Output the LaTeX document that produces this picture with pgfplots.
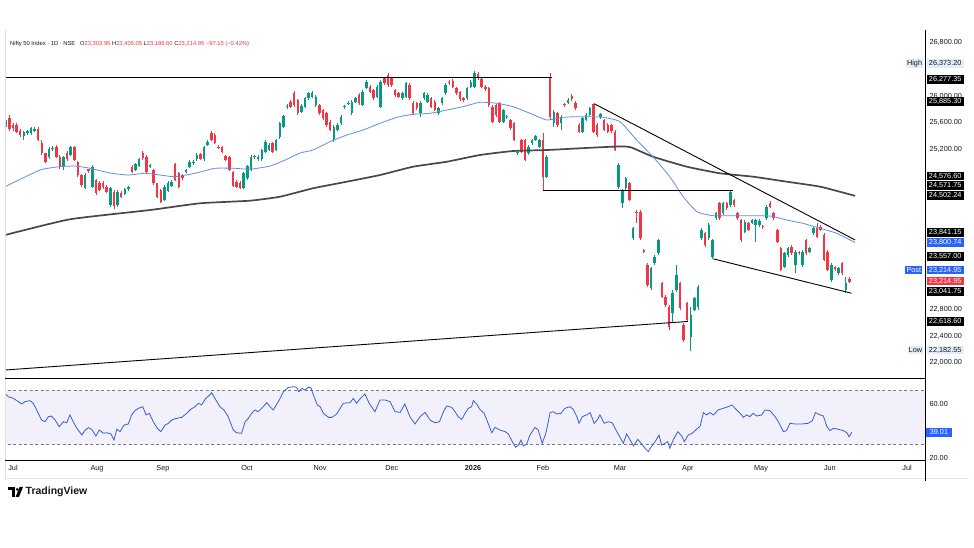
\documentclass[border=0pt]{standalone}
\usepackage{pgfplots}
\pgfplotsset{compat=1.18}
\usepackage{pgfplotstable}
\usepackage{fontspec}
\setmainfont{Liberation Sans}
\definecolor{tvgreen}{RGB}{8,153,129}
\definecolor{tvred}{RGB}{242,54,69}
\definecolor{maBlue}{RGB}{100,140,225}
\definecolor{maGray}{RGB}{72,72,72}
\definecolor{rsiBlue}{RGB}{55,95,210}
\definecolor{rsiFill}{RGB}{242,240,250}
\definecolor{tvBlue}{RGB}{41,98,255}
\definecolor{hlBg}{RGB}{228,236,250}
\definecolor{txtDark}{RGB}{19,23,34}
\definecolor{axisGray}{RGB}{120,123,134}
\newcommand{\lblfont}{\fontsize{7.3}{8}\selectfont}

\pgfplotstableread{
i o h l c
-2 25540 25680 25510 25640
3 25400 25480 25340 25465
4 25450 25490 25420 25470
5 25440 25540 25410 25520
6 25480 25530 25460 25500
10 25090 25230 25060 25210
11 25200 25250 25180 25220
14 24950 25100 24890 25080
16 25120 25250 25100 25230
20 24620 24840 24600 24815
22 24640 24970 24620 24940
27 24365 24640 24330 24616
29 24365 24590 24340 24565
31 24530 24620 24510 24600
32 24600 24650 24580 24630
34 24890 25000 24870 24980
35 24950 25070 24930 25050
38 24940 24980 24920 24960
42 24440 24660 24420 24640
43 24580 24720 24560 24700
44 24650 24740 24630 24715
48 24865 24910 24840 24890
49 24940 25040 24920 25015
50 24990 25040 24970 25015
51 25055 25140 25030 25115
53 25050 25250 25030 25230
54 25265 25340 25250 25315
64 24616 24860 24600 24841
65 24766 24970 24740 24950
66 24890 25110 24870 25090
67 25080 25120 25060 25100
68 25050 25110 25030 25090
69 25050 25210 25030 25190
70 25165 25340 25140 25315
71 25190 25290 25170 25265
73 25190 25360 25170 25340
74 25380 25610 25360 25590
75 25540 25720 25520 25700
76 25830 25880 25800 25850
80 25760 25880 25740 25850
81 25840 25990 25820 25966
82 25966 26060 25940 26041
83 25990 26070 25970 26041
84 25865 26010 25840 25990
89 25340 25560 25315 25540
90 25490 25590 25470 25565
91 25591 25710 25570 25690
92 25830 25870 25810 25850
93 25880 25920 25860 25900
94 25741 25940 25720 25915
95 25915 25990 25900 25966
97 25865 26090 25850 26065
98 26116 26240 26100 26215
101 25990 26160 25970 26140
102 25840 26240 25820 26215
108 25966 26060 25940 26041
109 25990 26210 25970 26191
113 25741 25920 25690 25900
114 25966 26060 25940 26041
115 25915 26040 25890 26015
118 25741 25840 25720 25816
119 25891 25990 25870 25966
120 26041 26190 26020 26165
126 25966 26140 25940 26116
127 26140 26240 26120 26215
128 26140 26373.2 26120 26341
136 25615 25810 25590 25790
137 25680 25720 25660 25700
140 25141 25190 25120 25165
143 25141 25260 25120 25240
144 25291 25360 25270 25340
145 25345 25420 25330 25400
146 25240 25360 25220 25340
148 24790 25110 24770 25090
150 25591 25790 25540 25765
152 25591 25710 25490 25690
154 25900 25970 25880 25940
158 25465 25690 25440 25666
159 25640 25740 25620 25715
160 25715 25840 25700 25816
163 25680 25750 25660 25730
168 24640 24990 24610 24965
169 24391 24610 24320 24590
170 24616 24790 24590 24766
172 23866 24040 23840 24016
177 23116 23440 23090 23416
178 23491 23610 23470 23590
179 23641 23860 23620 23840
183 22741 23090 22600 23041
184 23090 23465 23060 23315
188 22390 22840 22182.55 22715
189 22790 22990 22770 22966
190 22840 23165 22790 23140
191 23866 24020 23840 23990
193 23866 24090 23840 24065
194 23590 23860 23557 23840
195 24166 24260 24140 24241
197 24241 24410 24220 24391
199 24365 24576.6 24340 24565
203 23965 24140 23940 24115
205 24100 24160 24080 24140
206 24065 24160 23815 24140
207 24065 24150 24040 24130
209 24166 24360 24140 24340
214 23440 23660 23420 23641
215 23615 23740 23590 23716
217 23465 23690 23345 23665
219 23465 23690 23440 23665
221 23665 23740 23640 23716
222 23941 24040 23920 24016
227 23240 23490 23215 23465
229 23341 23440 23320 23416
231 23090 23290 23041.75 23191
}\upT

\pgfplotstableread{
i o h l c
-1 25666 25710 25470 25500
0 25565 25590 25480 25520
1 25560 25590 25440 25465
2 25480 25500 25390 25415
7 25510 25530 25320 25340
8 25290 25340 25120 25140
9 25140 25150 24990 25015
12 25240 25260 25070 25090
13 25090 25110 24910 24940
15 25150 25170 25030 25050
17 25230 25250 25020 25040
18 25015 25030 24790 24815
19 24815 24830 24640 24665
21 24900 24910 24850 24870
23 24740 24760 24520 24550
24 24700 24720 24570 24590
25 24700 24720 24610 24640
26 24640 24660 24540 24565
28 24565 24590 24310 24350
30 24550 24570 24470 24490
33 24940 24970 24840 24865
36 25150 25180 25040 25065
37 25090 25110 24850 24865
39 24890 24910 24670 24690
40 24690 24700 24470 24490
41 24590 24610 24390 24415
45 24980 25000 24720 24740
46 24840 24860 24620 24640
47 24815 24830 24740 24766
52 25130 25150 25040 25055
55 25450 25480 25320 25340
56 25420 25440 25280 25300
57 25240 25260 25200 25220
58 25230 25250 25140 25165
59 25100 25120 25020 25040
60 25080 25100 24870 24890
61 24865 24880 24630 24650
62 24715 24740 24620 24640
63 24700 24720 24600 24616
72 25290 25310 25150 25165
77 25915 25940 25820 25840
78 26040 26070 25840 25865
79 25940 25960 25720 25740
85 25865 25880 25720 25741
86 25790 25810 25640 25666
87 25741 25760 25540 25565
88 25615 25640 25470 25490
96 26015 26040 25870 25891
99 26140 26160 26040 26065
100 26090 26110 25940 25966
103 26266 26290 26170 26191
104 26315 26350 26140 26165
105 26266 26290 26140 26165
106 26090 26110 25990 26015
107 26041 26060 25970 25990
110 26165 26190 25940 25966
111 25891 25920 25720 25741
112 25891 25910 25790 25816
116 25966 25990 25820 25840
117 25915 25940 25770 25790
121 26215 26240 26170 26191
122 26230 26250 26120 26140
123 26116 26140 26020 26041
124 26065 26080 25930 25950
125 25966 25990 25910 25940
129 26330 26360 26240 26266
130 26250 26270 26120 26140
131 26140 26160 26080 26100
132 26116 26140 25840 25865
133 25840 25860 25590 25615
134 25865 25880 25690 25715
135 25891 25910 25590 25615
138 25640 25660 25490 25516
139 25591 25610 25320 25340
141 25340 25360 25140 25165
142 25340 25360 25020 25040
147 25340 25441 24576.6 24790
149 26277.35 26341 25640 25690
151 25741 25760 25540 25565
153 25880 25900 25840 25860
155 26000 26030 25930 25950
156 25900 25920 25790 25816
157 25565 25590 25440 25465
161 25885.3 25885.3 25440 25465
162 25565 25590 25390 25415
164 25640 25660 25470 25490
165 25565 25590 25440 25465
166 25560 25580 25450 25470
167 25465 25490 25170 25190
171 24691 24710 24420 24440
173 24265 24290 24100 24241
174 24265 24290 23840 23866
175 23690 23700 23650 23665
176 23465 23490 23140 23165
180 23191 23210 22970 22990
181 22990 23020 22830 22860
182 22840 22860 22490 22540
185 23191 23210 22790 22816
186 22565 22590 22310 22340
187 22891 22910 22618.6 22640
192 23941 23960 23740 23765
196 24391 24410 24140 24166
198 24391 24410 24290 24316
200 24440 24460 24340 24365
201 24241 24260 24140 24166
202 24140 24160 23815 23840
204 24091 24110 23970 23990
208 24050 24070 24010 24030
210 24391 24420 24320 24340
211 24241 24260 24140 24166
212 23990 24010 23790 23815
213 23716 23740 23370 23390
216 23740 23760 23620 23641
218 23665 23680 23620 23641
220 23840 23860 23620 23641
223 24016 24100 23870 23890
224 24040 24060 23970 23990
225 23915 23940 23520 23540
226 23665 23690 23370 23390
228 23430 23450 23380 23400
230 23491 23510 23320 23341
232 23260 23280 23200 23214.95
}\dnT

\pgfplotstableread{
i v
-2.2 24640
7.5 24890
13 24940
17.2 24950
21.4 24916
26.9 24845
31.9 24815
36.6 24841
40.8 24815
44.9 24790
50.5 24841
56 24916
61.6 24916
65.7 24901
71.3 24950
75.5 25040
79.6 25145
83.2 25190
87.9 25315
92.6 25415
97.1 25490
101.8 25591
106.5 25681
111 25726
115.7 25741
120.4 25790
124.8 25840
129.5 25906
134.3 25891
138.7 25840
143.4 25741
148.1 25640
152.6 25681
157.3 25690
163.7 25681
168.4 25615
173 25340
177.5 25090
182.2 24790
185.9 24490
189.7 24265
194.2 24205
200.7 24205
210 24200
214.6 24140
219.1 24091
223.9 24016
228.5 23941
233.6 23800.74
}\blueMA

\pgfplotstableread{
i v
-2.2 23915
15.8 24151
38 24290
51.9 24391
65.7 24430
74.1 24490
83.2 24616
92.6 24715
101.8 24815
111 24940
120.4 25015
129.5 25115
138.7 25175
148.1 25190
157.3 25216
166.4 25240
171.1 25235
177.5 25090
186.9 24940
196.1 24841
205.3 24790
214.6 24715
223.9 24640
233.6 24502.24
}\grayMA

\pgfplotstableread{
i r
-2.2 67.9
-1.3 65.4
0.1 64.2
1.5 61.7
2.4 60.0
3.3 61.7
4.7 62.5
5.6 60.5
6.6 55.6
7.9 48.1
8.9 46.9
9.8 50.6
10.7 51.1
11.7 48.1
12.8 43.2
14 46.9
14.9 46.1
15.8 51.9
16.7 46.9
17.7 42.0
19.1 37.0
20 40.7
20.9 42.5
21.8 41.3
23 36.3
23.9 40.7
25.1 38.3
26 38.7
27.2 37.8
28 33.3
28.8 41.3
29.7 39.5
30.8 44.4
32 45.2
32.9 51.9
33.8 55.0
34.8 56.8
36 58.0
36.9 51.9
37.8 53.1
38.9 46.9
40 42.0
41 39.5
42.2 44.4
43.1 45.7
44 48.1
45.4 49.4
46.8 50.1
48.2 53.1
49.3 56.1
50.5 58.0
51.4 60.5
52.3 59.3
53.5 64.2
54.6 66.7
55.1 68.4
56 64.2
57.4 58.0
58.5 55.6
59.7 50.6
61.1 40.7
62 38.7
63.4 38.3
64.4 46.9
65.3 49.4
66.2 53.1
67.1 55.6
68 54.3
69.4 58.0
70.4 61.0
71.3 58.0
72.2 55.6
73.6 61.7
75 69.1
76.4 72.3
77.8 72.8
78.7 72.3
79.3 69.1
80.1 71.6
81 70.4
81.9 72.3
82.6 72.3
83.5 65.4
84.4 59.3
85.2 58.0
86.1 53.1
87.5 50.1
88.4 50.1
89.8 52.6
91.6 60.5
93.5 61.0
94.4 64.2
95.3 60.5
96.4 64.2
97.6 67.4
98.8 60.5
100.4 54.3
101.8 63.0
103.2 63.0
104.6 61.7
106 54.3
107.4 53.8
108.7 60.0
110.1 50.6
111.5 45.2
112.9 50.6
114.3 53.8
115.7 48.1
117.1 46.1
118.3 46.9
119.4 54.3
120.3 58.5
121.7 57.5
122.6 54.3
123.5 50.6
124.5 48.6
125.4 53.1
126.3 56.8
127.2 58.0
127.7 62.5
128.6 60.0
129.5 56.1
130.7 53.1
131.8 45.7
132.8 38.7
133.7 42.7
135.1 40.7
136.5 39.5
137.4 37.8
138.5 32.1
139.4 27.9
140.2 29.6
140.9 33.3
141.6 28.9
142.5 30.4
143.4 37.0
144.8 42.7
145.7 40.7
146.8 30.9
147.8 38.3
149 53.6
149.9 54.3
150.8 52.6
152 53.1
153.1 56.8
154.5 58.0
155.4 56.1
156.4 50.6
157 45.7
157.9 50.6
159.1 51.9
160.1 53.6
161.2 45.7
162.2 48.6
162.8 51.9
164 45.7
165.1 46.9
166.2 46.1
167.5 39.5
168.4 35.3
169.3 30.9
170.2 37.8
171.2 33.3
172.1 28.9
173.3 33.8
174.2 30.9
175.3 27.2
176.2 24.7
177.2 28.9
178.1 32.1
179.2 37.0
179.9 29.6
180.9 30.9
181.6 32.1
182.2 27.2
183.2 33.8
184.4 39.5
185.5 36.3
186.2 32.1
187.3 37.0
188.4 38.3
189.6 41.3
190.6 43.7
191.5 53.6
192.4 51.9
193.3 53.6
194.3 51.9
195.6 55.6
197 56.8
198.4 58.0
199.4 59.3
200.3 56.8
201.7 53.1
202.6 50.1
203.5 51.9
204.4 50.6
205.3 53.1
206.3 51.1
207.7 51.9
208.6 55.6
210 55.0
211.4 50.6
212.3 46.9
213.7 39.5
214.6 40.3
215.5 45.7
216.9 45.2
218.8 45.2
220.6 45.7
221.7 47.6
222.6 53.6
223.9 51.9
224.8 51.1
225.7 43.7
226.6 40.3
227.6 42.0
228.9 41.3
230.3 40.3
231.3 38.7
231.9 35.8
232.7 39.01
}\rsiT

\newcommand{\plab}[4]{\node[fill=#3, text=#4, font=\lblfont, inner sep=0pt, minimum width=36.6pt, minimum height=8.6pt, anchor=west] at (926.7,{548-#1}) {#2};}

\begin{document}
\begin{tikzpicture}[x=1pt,y=1pt]
\useasboundingbox (0,0) rectangle (974,548);
\fill[white] (0,0) rectangle (974,548);

% ---------- price panel ----------
\begin{axis}[
  at={(5pt,170pt)}, anchor=south west, scale only axis,
  width=920pt, height=348pt,
  xmin=-2.22, xmax=252.98, ymin=21770.5, ymax=26990.5,
  axis line style={draw=none}, tick style={draw=none}, major tick length=0pt,
  xtick=\empty,
  ytick={22000,22400,22800,25200,25600,26000,26800},
  scaled y ticks=false,
  yticklabel pos=right,
  yticklabel style={font=\lblfont, text=txtDark, anchor=west, xshift=1pt,
    /pgf/number format/.cd, fixed, fixed zerofill, precision=2, 1000 sep={,}, assume math mode=true},
  clip=true,
]
% wicks
\addplot[tvgreen, line width=0.8pt, forget plot, quiver={u=0, v=\thisrow{h}-\thisrow{l}}]
  table[x=i, y=l] {\upT};
\addplot[tvred, line width=0.8pt, forget plot, quiver={u=0, v=\thisrow{h}-\thisrow{l}}]
  table[x=i, y=l] {\dnT};
% bodies
\addplot[tvgreen, line width=2.5pt, forget plot, quiver={u=0, v=\thisrow{c}-\thisrow{o}}]
  table[x=i, y=o] {\upT};
\addplot[tvred, line width=2.5pt, forget plot, quiver={u=0, v=\thisrow{o}-\thisrow{c}}]
  table[x=i, y=c] {\dnT};
% moving averages
\addplot[maGray, line width=1.7pt, smooth, tension=0.3] table[x=i, y=v] {\grayMA};
\addplot[maBlue, line width=0.8pt, smooth, tension=0.3] table[x=i, y=v] {\blueMA};
% drawings
\addplot[black, line width=0.9pt] coordinates {(-2.3,26277.35) (149.5,26277.35)};
\addplot[black, line width=0.9pt] coordinates {(147,24576.6) (199.7,24576.6)};
\addplot[black, line width=0.9pt] coordinates {(161.2,25885.3) (233.6,23841.15)};
\addplot[black, line width=0.9pt] coordinates {(194.3,23557) (232.6,23041.75)};
\addplot[black, line width=0.9pt] coordinates {(-2.3,21890) (187.2,22618.6)};
\end{axis}

% ---------- RSI panel ----------
\begin{axis}[
  at={(5pt,87.5pt)}, anchor=south west, scale only axis,
  width=920pt, height=82.5pt,
  xmin=-2.22, xmax=252.98, ymin=18.15, ymax=79.26,
  axis line style={draw=none}, tick style={draw=none}, major tick length=0pt,
  xtick={0,23.3,41.6,64.9,85.2,105.1,127.6,147,168.4,187.2,207.5,226.6,248},
  xticklabels={Jul,Aug,Sep,Oct,Nov,Dec,\textbf{2026},Feb,Mar,Apr,May,Jun,Jul},
  xticklabel style={font=\lblfont, text=txtDark, yshift=-1.5pt},
  ytick={20,60},
  yticklabel pos=right,
  yticklabel style={font=\lblfont, text=txtDark, anchor=west, xshift=1pt,
    /pgf/number format/.cd, fixed, fixed zerofill, precision=2, assume math mode=true},
  clip=true,
]
\addplot[fill=rsiFill, draw=none] coordinates {(-3,30) (254,30) (254,70) (-3,70) (-3,30)};
\addplot[axisGray, line width=0.6pt, dash pattern=on 3pt off 2.5pt] coordinates {(-3,70) (254,70)};
\addplot[axisGray, line width=0.6pt, dash pattern=on 3pt off 2.5pt] coordinates {(-3,30) (254,30)};
\addplot[rsiBlue, line width=0.8pt] table[x=i, y=r] {\rsiT};
\end{axis}

% frame lines
\draw[black!12, line width=0.5pt] (5.5,518) -- (5.5,68);
\draw[black!10, line width=0.5pt] (5,70) -- (969,70);
\draw[black, line width=0.9pt] (925,518) -- (925,67);
\draw[black, line width=0.9pt] (5,170) -- (925,170);
\draw[black, line width=0.9pt] (5,87.5) -- (925,87.5);

% header
\node[anchor=west, font=\fontsize{5.8}{7}\selectfont, text=txtDark, inner sep=0pt] at (10,504)
 {Nifty 50 Index · 1D · NSE \ \ O\textcolor{tvred}{23,303.95} H\textcolor{tvred}{23,405.05} L\textcolor{tvred}{23,186.60} C\textcolor{tvred}{23,214.95 −97.15 (−0.42\%)}};

% right scale labels
\plab{79.3}{26,277.35}{black}{white}
\plab{101.7}{25,885.30}{black}{white}
\plab{176}{24,576.60}{black}{white}
\plab{185.7}{24,571.75}{black}{white}
\plab{195.7}{24,502.24}{black}{white}
\plab{232.3}{23,841.15}{black}{white}
\plab{242.7}{23,800.74}{tvBlue}{white}
\plab{256.7}{23,557.00}{black}{white}
\plab{270}{23,214.95}{tvBlue}{white}
\plab{281}{23,214.95}{tvred}{white}
\plab{291.7}{23,041.75}{black}{white}
\plab{321.7}{22,618.60}{black}{white}
\plab{63.3}{26,373.20}{hlBg}{txtDark}
\plab{350}{22,182.55}{hlBg}{txtDark}
\node[fill=tvBlue, text=white, font=\lblfont, inner sep=0pt, minimum width=26.5pt, minimum height=8.6pt, anchor=west] at (925.5,{548-432.3}) {39.01};
\node[fill=hlBg, text=txtDark, font=\lblfont, inner sep=1.2pt, minimum height=8.6pt, anchor=east] at (923.5,{548-63.3}) {High};
\node[fill=hlBg, text=txtDark, font=\lblfont, inner sep=1.2pt, minimum height=8.6pt, anchor=east] at (923.5,{548-350}) {Low};
\node[fill=tvBlue, text=white, font=\lblfont, inner sep=1.2pt, minimum height=8.6pt, anchor=east] at (922.5,{548-270}) {Post};

% TradingView logo
\fill[black] (8,58.3) rectangle (14.6,61);
\fill[black] (11.6,51) rectangle (14.6,61);
\fill[black] (17.3,58.6) circle (1.5);
\fill[black] (15.6,51) -- (19.6,61) -- (23,61) -- (19,51) -- cycle;
\node[anchor=west, font=\fontsize{10.5}{12}\selectfont\bfseries, text=txtDark, inner sep=0pt] at (25.5,56) {TradingView};
\end{tikzpicture}
\end{document}
